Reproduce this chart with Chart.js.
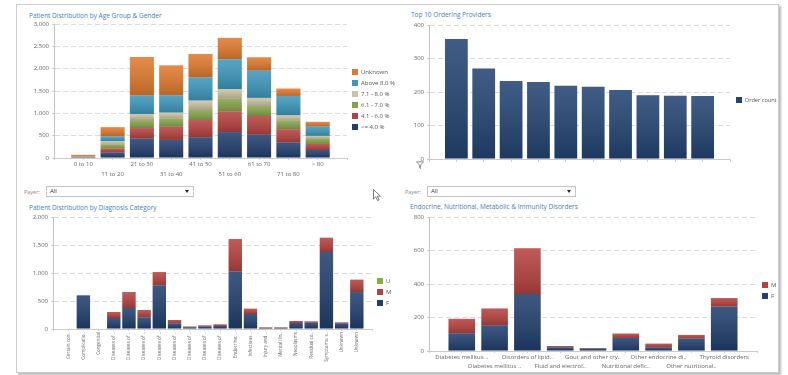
<!DOCTYPE html>
<html>
<head>
<meta charset="utf-8">
<script src="https://cdn.jsdelivr.net/npm/chart.js@4.4.1/dist/chart.umd.min.js"></script>
<style>
  html,body{margin:0;padding:0;background:#fff;}
  body{width:788px;height:375px;overflow:hidden;position:relative;font-family:'Open Sans','DejaVu Sans',sans-serif;}
  #panel{position:absolute;left:16px;top:4px;width:761px;height:367px;border:1px solid #cdcdcd;box-shadow:2px 2px 2px rgba(0,0,0,0.28);background:#fff;}
  .ttl{position:absolute;font-size:6.5px;line-height:9px;color:#3f80c0;white-space:nowrap;}
  canvas{position:absolute;}
  .payer{position:absolute;font-size:5.5px;line-height:8px;color:#8a8a8a;}
  .dd{position:absolute;height:9px;border:1px solid #c4c4c4;background:#fff;font-size:6px;line-height:9px;color:#333;box-sizing:content-box;}
  .dd span{position:absolute;left:3px;top:0;}
  .dd i{position:absolute;right:4px;top:3px;width:0;height:0;border-left:2px solid transparent;border-right:2px solid transparent;border-top:3px solid #222;}
  svg{position:absolute;}
</style>
</head>
<body>
<div id="panel"></div>

<div class="ttl" style="left:29px;top:11px;">Patient Distribution by Age Group &amp; Gender</div>
<div class="ttl" style="left:411px;top:10px;">Top 10 Ordering Providers</div>
<div class="ttl" style="left:29px;top:203px;">Patient Distribution by Diagnosis Category</div>
<div class="ttl" style="left:410px;top:202px;">Endocrine, Nutritional, Metabolic &amp; Immunity Disorders</div>

<div class="payer" style="left:24px;top:188px;">Payer:</div>
<div class="dd" style="left:46px;top:186px;width:146px;"><span>All</span><i></i></div>
<div class="payer" style="left:405px;top:188px;">Payer:</div>
<div class="dd" style="left:427px;top:186px;width:147px;"><span>All</span><i></i></div>

<svg style="left:416px;top:161px;" width="8" height="8" viewBox="0 0 8 8"><path d="M0.5 0.8 H7.5 L4.6 4 V7.5 L3.4 6.6 V4 Z" fill="#fff" stroke="#777" stroke-width="0.8"/></svg>
<svg style="left:373px;top:189px;" width="9" height="13" viewBox="0 0 9 13"><path d="M0.5 0.5 L0.5 10 L2.8 7.8 L4.6 11.6 L6.1 10.9 L4.3 7.2 L7.4 7.2 Z" fill="#fff" stroke="#444" stroke-width="0.7"/></svg>

<canvas id="c1" width="386" height="170" style="left:20px;top:14px;"></canvas>
<canvas id="c2" width="388" height="160" style="left:400px;top:15px;"></canvas>
<canvas id="c3" width="376" height="165" style="left:20px;top:207px;"></canvas>
<canvas id="c4" width="381" height="166" style="left:400px;top:207px;"></canvas>

<script>
// ---------- DATA ----------
const ageGroups = ['0 to 10','11 to 20','21 to 30','31 to 40','41 to 50','51 to 60','61 to 70','71 to 80','> 80'];
const a1cBands  = ['<= 4.0 %','4.1 - 6.0 %','6.1 - 7.0 %','7.1 - 8.0 %','Above 8.0 %','Unknown'];
const bandLe4     = [8,  120, 435, 405, 465, 580, 520, 345, 180];
const band41to60  = [10,  90, 235, 295, 385, 465, 420, 300, 135];
const band61to70  = [8,   85, 180, 180, 225, 285, 225, 190, 120];
const band71to80  = [4,   80, 135, 135, 210, 210, 180, 120,  60];
const bandAbove8  = [10, 110, 415, 390, 520, 670, 610, 435, 210];
const bandUnknown = [30, 205, 860, 670, 525, 480, 300, 165, 105];
const ageTicks = [0, 3000, 500];

const providerLabels = ['', '', '', '', '', '', '', '', '', ''];
const orderCount = [358, 270, 233, 230, 219, 216, 206, 190, 189, 188];
const providerTicks = [0, 400, 100];

const diagCats = ['Certain con..','Complicatio..','Congenital','Diseases of ..','Diseases of ..','Diseases of ..','Diseases of ..','Diseases of ..','Diseases of ..','Diseases of ..','Diseases of ..','Endocrine; ..','Infectious ..','Injury and ..','Mental illn..','Neoplasms','Residual co..','Symptoms; s..','Unknown','Unknown'];
const diagF = [0, 601, 0, 196, 375, 208, 779, 101, 32, 45, 55, 1029, 268, 20, 20, 107, 113, 1375, 101, 660];
const diagM = [0,   0, 0, 108, 285, 131, 238,  60,  8, 20, 28,  578,  95, 10, 10,  36,  24,  255,  18, 221];
const diagU = [0,   0, 0,   0,   0,   0,   0,   0,  8,  0,  0,    0,   0,  0,  0,   0,   0,    0,   0,   0];
const diagTicks = [0, 2000, 500];

const endoCats = ['Diabetes mellitus ..','Diabetes mellitus ..','Disorders of lipid..','Fluid and electrol..','Gout and other cry..','Nutritional defic..','Other endocrine di..','Other nutritional..','Thyroid disorders'];
const endoF = [106, 154, 340, 22, 14, 78, 22, 74, 266];
const endoM = [ 86, 100, 274,  8,  4, 26, 22, 22,  50];
const endoTicks = [0, 800, 200];

// ---------- STYLE ----------
const FONT = "'Open Sans','DejaVu Sans',sans-serif";
const C = {navy:'#213f6e', red:'#b5423f', green:'#87a34a', beige:'#c9c3a1', teal:'#3d97bc', orange:'#e07a2e', ugreen:'#8aab3f'};
Chart.defaults.font.family = FONT;

const pts = arr => arr.map((v, i) => ({x: i, y: v}));

const shade = {
  id: 'shade',
  afterDatasetsDraw(chart) {
    const ctx = chart.ctx;
    chart.data.datasets.forEach((ds, i) => {
      const meta = chart.getDatasetMeta(i);
      if (meta.hidden) return;
      meta.data.forEach(el => {
        const p = el.getProps(['x','y','base','width'], true);
        const top = Math.min(p.y, p.base), bot = Math.max(p.y, p.base);
        if (bot - top < 0.5) return;
        const g = ctx.createLinearGradient(0, top, 0, bot);
        g.addColorStop(0, 'rgba(255,255,255,0.13)');
        g.addColorStop(1, 'rgba(0,0,0,0.17)');
        ctx.save();
        ctx.fillStyle = g;
        ctx.fillRect(p.x - p.width / 2, top, p.width, bot - top);
        ctx.restore();
      });
    });
  }
};

function xScale(labels, o) {
  return {
    type: 'linear', min: -1, max: labels.length, stacked: true, offset: false,
    afterFit: s => { s.height = o.h; },
    grid: {offset: false, drawOnChartArea: false, drawTicks: true, tickLength: o.tl, tickColor: '#d0d0d0'},
    border: {display: true, color: '#cacaca'},
    ticks: {
      stepSize: 1, autoSkip: false, maxRotation: o.rot || 0, minRotation: o.rot || 0,
      padding: o.pad, color: '#666', font: {family: FONT, size: o.fs || 6, lineHeight: o.lh || 1.2},
      callback: v => (Number.isInteger(v) && v >= 0 && v < labels.length)
        ? (o.stagger && v % 2 === 1 ? ['', labels[v]] : labels[v]) : ''
    }
  };
}
function yScale(t, w) {
  return {
    stacked: true, min: t[0], max: t[1],
    afterFit: s => { s.width = w; },
    grid: {color: c => (c.tick && c.tick.value === 0) ? 'rgba(0,0,0,0)' : '#d9d9d9', drawTicks: true, tickLength: 2, tickColor: '#cfcfcf'},
    border: {display: true, color: '#c4c4c4', dash: [5, 3]},
    ticks: {stepSize: t[2], padding: 3, color: '#666', font: {family: FONT, size: 6}}
  };
}
// legend: fixed width (maxWidth) and a blank title used as a top spacer
function legend(padBox, reverse, width, offsetTop, fs) {
  return {
    position: 'right', align: 'start', reverse: reverse, maxWidth: width,
    title: {display: true, text: '', font: {size: 1, lineHeight: '1px'}, padding: {top: offsetTop - 1, bottom: 0}},
    labels: {
      boxWidth: 6, boxHeight: 6, padding: padBox, color: '#555', font: {family: FONT, size: fs || 6},
      generateLabels: chart => Chart.defaults.plugins.legend.labels.generateLabels(chart)
        .map(l => Object.assign(l, {text: l.text + '\u2003\u2003'}))
    }
  };
}
function baseOpts(layoutPad) {
  return {responsive: false, animation: false, events: [], layout: {padding: layoutPad}};
}

// ---------- CHART 1 ----------
new Chart(document.getElementById('c1'), {
  type: 'bar',
  data: {datasets: [
    {label: a1cBands[0], data: pts(bandLe4), backgroundColor: C.navy},
    {label: a1cBands[1], data: pts(band41to60), backgroundColor: C.red},
    {label: a1cBands[2], data: pts(band61to70), backgroundColor: C.green},
    {label: a1cBands[3], data: pts(band71to80), backgroundColor: C.beige},
    {label: a1cBands[4], data: pts(bandAbove8), backgroundColor: C.teal},
    {label: a1cBands[5], data: pts(bandUnknown), backgroundColor: C.orange}
  ].map(d => Object.assign(d, {categoryPercentage: 1, barPercentage: 0.82}))},
  options: Object.assign(baseOpts({top: 10, left: 0, right: 7, bottom: 0}), {
    plugins: {legend: legend(5, true, 52, 40), tooltip: {enabled: false}},
    scales: {x: xScale(ageGroups, {h: 26, tl: 2, pad: 0, stagger: true, lh: '9.5px'}), y: yScale(ageTicks, 34)}
  }),
  plugins: [shade]
});

// ---------- CHART 2 ----------
new Chart(document.getElementById('c2'), {
  type: 'bar',
  data: {datasets: [
    {label: 'Order count', data: pts(orderCount), backgroundColor: '#244472', categoryPercentage: 1, barPercentage: 0.83}
  ]},
  options: Object.assign(baseOpts({top: 10, left: 0, right: 0, bottom: 0}), {
    plugins: {legend: legend(6, false, 58, 66, 5.6), tooltip: {enabled: false}},
    scales: {x: xScale(providerLabels, {h: 16, tl: 3, pad: 1}), y: yScale(providerTicks, 29)}
  }),
  plugins: [shade]
});

// ---------- CHART 3 ----------
new Chart(document.getElementById('c3'), {
  type: 'bar',
  data: {datasets: [
    {label: 'F', data: pts(diagF), backgroundColor: C.navy},
    {label: 'M', data: pts(diagM), backgroundColor: C.red},
    {label: 'U', data: pts(diagU), backgroundColor: C.ugreen}
  ].map(d => Object.assign(d, {categoryPercentage: 1, barPercentage: 0.88}))},
  options: Object.assign(baseOpts({top: 10, left: 0, right: 4, bottom: 0}), {
    plugins: {legend: legend(5, true, 20, 56), tooltip: {enabled: false}},
    scales: {x: xScale(diagCats, {h: 43, tl: 2, pad: 1, rot: 90, fs: 4.6}), y: yScale(diagTicks, 33)}
  }),
  plugins: [shade]
});

// ---------- CHART 4 ----------
new Chart(document.getElementById('c4'), {
  type: 'bar',
  data: {datasets: [
    {label: 'F', data: pts(endoF), backgroundColor: C.navy},
    {label: 'M', data: pts(endoM), backgroundColor: C.red}
  ].map(d => Object.assign(d, {categoryPercentage: 1, barPercentage: 0.81}))},
  options: Object.assign(baseOpts({top: 10, left: 0, right: 4, bottom: 0}), {
    plugins: {legend: legend(5, true, 20, 60), tooltip: {enabled: false}},
    scales: {x: xScale(endoCats, {h: 22, tl: 2, pad: 0, stagger: true, lh: '9px'}), y: yScale(endoTicks, 29)}
  }),
  plugins: [shade]
});
</script>
</body>
</html>
